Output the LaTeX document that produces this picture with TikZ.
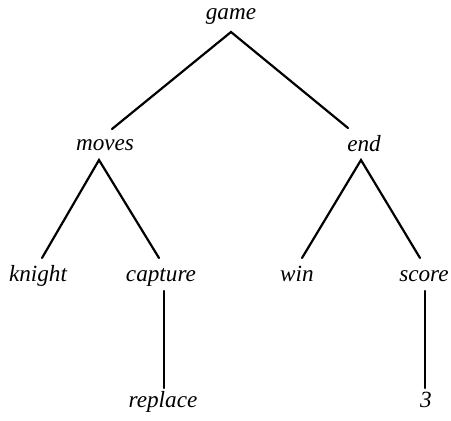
\documentclass[tikz,border=0pt]{standalone}
\usepackage{fontspec}
\setmainfont{Liberation Serif}
\usepackage{tikz}
\usetikzlibrary{calc}
\tikzset{word/.style={anchor=base, inner sep=0pt, font=\itshape\fontsize{11.6}{14}\selectfont},
	branch/.style={line width=1.1pt, line cap=round}}

\begin{document}
\begin{tikzpicture}[x=0.5pt, y=-0.5pt]
			%%%%% START %%%%%
			
			\useasboundingbox (0, 0) rectangle (451, 420);
			
			\node[word] (game) at (231, 19.5) {game};
			
			\node[word] (moves) at (105, 150.5) {moves};
			\node[word] (end) at (364, 151.5) {end};
			
			\node[word] (knight) at (38, 281) {knight};
			\node[word] (capture) at (161, 281) {capture};
			\node[word] (win) at (297, 281) {win};
			\node[word] (score) at (424, 281) {score};
			
			\node[word] (replace) at (163, 407) {replace};
			\node[word] (three) at (426, 407) {3};
			
			\draw[branch] ([shift={(7, -21.5)}]moves.base) -- ([shift={(0, 12.5)}]game.base) -- ([shift={(-16, -23.5)}]end.base);
			
			\draw[branch] ([shift={(4, -23)}]knight.base) -- ([shift={(-6, 9.5)}]moves.base) -- ([shift={(-2, -23)}]capture.base);
			\draw[branch] ([shift={(5, -23)}]win.base) -- ([shift={(-3, 8.5)}]end.base) -- ([shift={(-4, -23)}]score.base);
			
			\draw[branch] ([shift={(3, 10)}]capture.base) -- ([shift={(1, -19)}]replace.base);
			\draw[branch] ([shift={(1, 10)}]score.base) -- ([shift={(-1, -19)}]three.base);
			
			%%%%% END %%%%%
		\end{tikzpicture}
\end{document}
